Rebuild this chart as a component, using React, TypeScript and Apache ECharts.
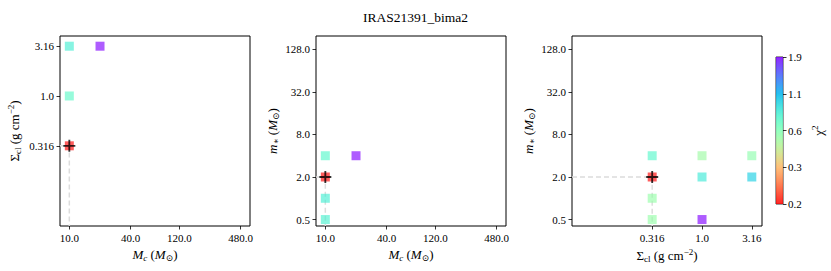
import React, { useEffect, useRef } from 'react';
import * as echarts from 'echarts';

const TITLE = 'IRAS21391_bima2';

// Panel 1: Mc vs Sigma_cl
const p1Mc = [10, 20, 10, 10];
const p1Sigma = [3.16, 3.16, 1.0, 0.316];
const p1Chi = [0.8, 1.9, 0.72, 0.2];
// Panel 2: Mc vs m*
const p2Mc = [10, 20, 10, 10, 10];
const p2Mstar = [4, 4, 2, 1, 0.5];
const p2Chi = [0.74, 1.9, 0.2, 0.8, 0.78];
// Panel 3: Sigma_cl vs m*
const p3Sigma = [0.316, 0.316, 0.316, 0.316, 1.0, 1.0, 1.0, 3.16, 3.16];
const p3Mstar = [4, 2, 1, 0.5, 4, 2, 0.5, 4, 2];
const p3Chi = [0.74, 0.2, 0.56, 0.56, 0.54, 0.83, 1.9, 0.58, 0.97];

// best fit
const bestMc = 10;
const bestSigma = 0.316;
const bestMstar = 2;

const mcTicks = [10, 40, 120, 480];
const mcTickLabels = ['10.0', '40.0', '120.0', '480.0'];
const sigmaTicks = [0.316, 1.0, 3.16];
const sigmaTickLabels = ['0.316', '1.0', '3.16'];
const mstarTicks = [0.5, 2, 8, 32, 128];
const mstarTickLabels = ['0.5', '2.0', '8.0', '32.0', '128.0'];
const cbarTickPos = [0, 0.25, 0.5, 0.75, 1];
const cbarTickLabels = ['0.2', '0.3', '0.6', '1.1', '1.9'];
const chiMin = 0.2;
const chiMax = 1.9;

const mcRange = [8.1, 592];
const sigmaRange = [0.0495, 4.0];
const mstarRange = [0.405, 198];

const FONT = '"Liberation Serif", "DejaVu Serif", serif';
const L = (v: number) => Math.log10(v);

function rainbow(x: number): [number, number, number] {
  const r = Math.min(1, Math.abs(2 * x - 0.5));
  const g = Math.sin(Math.PI * x);
  const b = Math.cos((Math.PI * x) / 2);
  return [r, g, b];
}
function rgba(c: [number, number, number], a: number) {
  return `rgba(${Math.round(c[0] * 255)},${Math.round(c[1] * 255)},${Math.round(c[2] * 255)},${a})`;
}
function chiColor(chi: number, a = 0.8) {
  let t = (L(chi) - L(chiMin)) / (L(chiMax) - L(chiMin));
  t = Math.max(0, Math.min(1, t));
  return rgba(rainbow(1 - t), a);
}

const rich = {
  n: { fontFamily: FONT, fontSize: 13, color: '#000' },
  i: { fontFamily: FONT, fontSize: 13, color: '#000', fontStyle: 'italic' },
  sub: { fontFamily: FONT, fontSize: 9, color: '#000', padding: [7, 0, 0, 0] },
  isub: { fontFamily: FONT, fontSize: 9, color: '#000', fontStyle: 'italic', padding: [7, 0, 0, 0] },
  sup: { fontFamily: FONT, fontSize: 9, color: '#000', padding: [0, 0, 7, 0] },
};
const sigmaName = '{n|Σ}{sub|cl}{n| (g cm}{sup|−2}{n|)}';
const mcName = '{i|M}{isub|c}{n| (}{i|M}{sub|⊙}{n|)}';
const mstarName = '{i|m}{sub|∗}{n| (}{i|M}{sub|⊙}{n|)}';
const chiName = '{n|χ}{sup|2}';

function valueAxis(
  gridIndex: number,
  range: number[],
  ticks: number[],
  labels: string[],
  name: string,
  nameGap: number,
  isY: boolean
) {
  const cv = ticks.map(L);
  return {
    type: 'value',
    gridIndex,
    min: L(range[0]),
    max: L(range[1]),
    axisLine: { show: false, onZero: false },
    axisTick: { show: true, length: 3.5, customValues: cv, lineStyle: { color: '#000', width: 0.8 } },
    axisLabel: {
      customValues: cv,
      margin: 6,
      fontFamily: FONT,
      fontSize: 11,
      color: '#000',
      formatter: (v: number) => {
        const i = cv.findIndex((c) => Math.abs(c - v) < 1e-6);
        return i >= 0 ? labels[i] : '';
      },
    },
    splitLine: { show: false },
    name,
    nameLocation: 'middle',
    nameGap,
    nameRotate: isY ? 90 : 0,
    nameTextStyle: { rich },
  };
}

function scatterSeries(idx: number, xs: number[], ys: number[], chis: number[]) {
  return {
    type: 'scatter',
    xAxisIndex: idx,
    yAxisIndex: idx,
    symbol: 'rect',
    symbolSize: 9,
    z: 3,
    data: xs.map((x, k) => ({ value: [L(x), L(ys[k])], itemStyle: { color: chiColor(chis[k]) } })),
  };
}

function bestLines(idx: number, bx: number, by: number, xr: number[], yr: number[]) {
  return {
    type: 'line',
    xAxisIndex: idx,
    yAxisIndex: idx,
    symbol: 'none',
    z: 2,
    lineStyle: { color: '#dcdcdc', width: 1.5, type: [5, 3] },
    data: [
      [L(xr[0]), L(by)],
      [L(bx), L(by)],
      [L(bx), L(yr[0])],
    ],
  };
}

const PLUS = 'path://M11,0 H15 V11 H26 V15 H15 V26 H11 V15 H0 V11 H11 Z';
function bestMark(idx: number, bx: number, by: number) {
  return {
    type: 'scatter',
    xAxisIndex: idx,
    yAxisIndex: idx,
    symbol: PLUS,
    symbolSize: 12,
    z: 4,
    itemStyle: { color: '#000' },
    data: [[L(bx), L(by)]],
  };
}

function grid(left: number) {
  return { left, top: 36, width: 190, height: 190, show: true, borderColor: '#000', borderWidth: 1, backgroundColor: 'transparent' };
}

export default function App() {
  const ref = useRef<HTMLDivElement>(null);
  useEffect(() => {
    document.body.style.margin = '0';
    if (!ref.current) return;
    const chart = echarts.init(ref.current, undefined, { renderer: 'svg' });
    const stops = [];
    for (let k = 0; k <= 20; k++) {
      const t = k / 20;
      stops.push({ offset: t, color: rgba(rainbow(1 - t), 0.85) });
    }
    const option = {
      animation: false,
      title: {
        text: TITLE,
        left: 'center',
        top: 5,
        textStyle: { fontFamily: FONT, fontSize: 13.5, fontWeight: 'normal', color: '#000' },
      },
      grid: [
        grid(60),
        grid(316),
        grid(572),
        { left: 776, top: 57, width: 7, height: 147, show: true, borderColor: '#000', borderWidth: 0.8 },
      ],
      xAxis: [
        valueAxis(0, mcRange, mcTicks, mcTickLabels, mcName, 19, false),
        valueAxis(1, mcRange, mcTicks, mcTickLabels, mcName, 19, false),
        valueAxis(2, sigmaRange, sigmaTicks, sigmaTickLabels, sigmaName, 19, false),
        {
          type: 'category',
          gridIndex: 3,
          data: [''],
          show: false,
          boundaryGap: true,
        },
      ],
      yAxis: [
        valueAxis(0, sigmaRange, sigmaTicks, sigmaTickLabels, sigmaName, 38, true),
        valueAxis(1, mstarRange, mstarTicks, mstarTickLabels, mstarName, 36, true),
        valueAxis(2, mstarRange, mstarTicks, mstarTickLabels, mstarName, 36, true),
        {
          type: 'value',
          gridIndex: 3,
          position: 'right',
          min: 0,
          max: 1,
          axisLine: { show: false },
          axisTick: { show: true, length: 3.5, customValues: cbarTickPos, lineStyle: { color: '#000', width: 0.8 } },
          axisLabel: {
            customValues: cbarTickPos,
            margin: 5,
            fontFamily: FONT,
            fontSize: 11,
            color: '#000',
            formatter: (v: number) => {
              const i = cbarTickPos.findIndex((c) => Math.abs(c - v) < 1e-6);
              return i >= 0 ? cbarTickLabels[i] : '';
            },
          },
          splitLine: { show: false },
          name: chiName,
          nameLocation: 'middle',
          nameGap: 27,
          nameRotate: 90,
          nameTextStyle: { rich },
        },
      ],
      series: [
        bestLines(0, bestMc, bestSigma, mcRange, sigmaRange),
        scatterSeries(0, p1Mc, p1Sigma, p1Chi),
        bestMark(0, bestMc, bestSigma),
        bestLines(1, bestMc, bestMstar, mcRange, mstarRange),
        scatterSeries(1, p2Mc, p2Mstar, p2Chi),
        bestMark(1, bestMc, bestMstar),
        bestLines(2, bestSigma, bestMstar, sigmaRange, mstarRange),
        scatterSeries(2, p3Sigma, p3Mstar, p3Chi),
        bestMark(2, bestSigma, bestMstar),
        {
          type: 'bar',
          xAxisIndex: 3,
          yAxisIndex: 3,
          barWidth: '100%',
          silent: true,
          itemStyle: { color: new echarts.graphic.LinearGradient(0, 1, 0, 0, stops) },
          data: [1],
        },
      ],
    };
    chart.setOption(option as any);
    return () => chart.dispose();
  }, []);
  return <div ref={ref} style={{ width: 831, height: 271 }} />;
}
